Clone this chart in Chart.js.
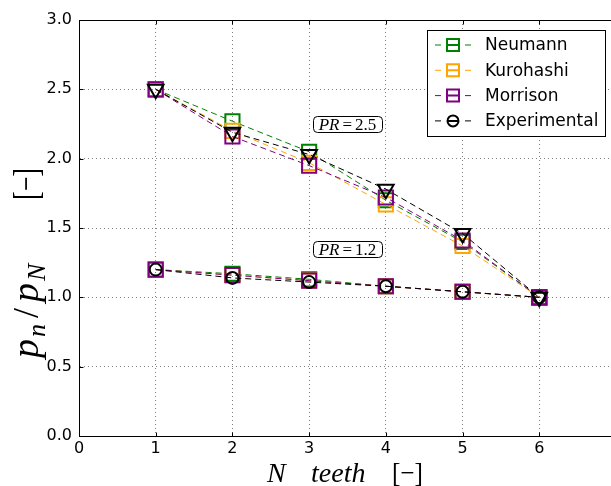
<!DOCTYPE html>
<html>
<head>
<meta charset="utf-8">
<script src="https://cdn.jsdelivr.net/npm/chart.js@4.4.0/dist/chart.umd.min.js"></script>
<style>
  html, body { margin: 0; padding: 0; background: #fff; overflow: hidden; }
  #wrap { width: 611px; height: 486px; overflow: hidden; }
</style>
</head>
<body>
<div id="wrap"><canvas id="c" width="628" height="486"></canvas></div>
<script>
const teeth = [1, 2, 3, 4, 5, 6];

// pressure ratio 2.5
const neumannHigh      = [2.50, 2.27, 2.05, 1.70, 1.40, 1.00];
const kurohashiHigh    = [2.50, 2.20, 1.97, 1.67, 1.37, 1.00];
const morrisonHigh     = [2.50, 2.16, 1.95, 1.72, 1.41, 1.00];
const experimentalHigh = [2.50, 2.19, 2.03, 1.78, 1.46, 1.00];

// pressure ratio 1.2
const neumannLow      = [1.20, 1.17, 1.13, 1.08, 1.04, 1.00];
const kurohashiLow    = [1.20, 1.16, 1.12, 1.08, 1.04, 1.00];
const morrisonLow     = [1.20, 1.16, 1.12, 1.08, 1.04, 1.00];
const experimentalLow = [1.20, 1.14, 1.11, 1.08, 1.04, 1.00];

const xTicks = [0, 1, 2, 3, 4, 5, 6, 7];
const yTicks = [0.0, 0.5, 1.0, 1.5, 2.0, 2.5, 3.0];

const seriesNames  = ['Neumann', 'Kurohashi', 'Morrison', 'Experimental'];
const seriesColors = ['#008000', '#ffa500', '#800080', '#000000'];

const prLabels = [
  { text: '2.5', x: 3.5, y: 2.25 },
  { text: '1.2', x: 3.5, y: 1.35 }
];

function line(values, color, style, radius, rotation, order) {
  return {
    data: teeth.map((t, i) => ({ x: t, y: values[i] })),
    borderColor: color,
    borderWidth: 1,
    borderDash: [6, 4],
    pointStyle: style,
    pointRadius: radius,
    pointRotation: rotation,
    pointBorderWidth: 2,
    pointBorderColor: color,
    pointBackgroundColor: 'rgba(0,0,0,0)',
    order: order
  };
}

const datasets = [
  line(neumannHigh, seriesColors[0], 'rect', 10, 0, 3),
  line(kurohashiHigh, seriesColors[1], 'rect', 10, 0, 2),
  line(morrisonHigh, seriesColors[2], 'rect', 10, 0, 1),
  line(experimentalHigh, seriesColors[3], 'triangle', 9, 180, 0),
  line(neumannLow, seriesColors[0], 'rect', 10, 0, 3),
  line(kurohashiLow, seriesColors[1], 'rect', 10, 0, 2),
  line(morrisonLow, seriesColors[2], 'rect', 10, 0, 1),
  line(experimentalLow, seriesColors[3], 'circle', 6, 0, 0)
];

function roundBox(ctx, x, y, w, h, r) {
  ctx.beginPath();
  ctx.moveTo(x + r, y);
  ctx.arcTo(x + w, y, x + w, y + h, r);
  ctx.arcTo(x + w, y + h, x, y + h, r);
  ctx.arcTo(x, y + h, x, y, r);
  ctx.arcTo(x, y, x + w, y, r);
  ctx.closePath();
}

// p_n/p_N [−], laid out along the current x direction from 0
function drawYTitle(ctx) {
  const big = 'italic 38px "Liberation Serif"';
  const small = 'italic 26px "Liberation Serif"';
  const up = '36px "Liberation Serif"';
  let x = 0;
  const put = (t, font, dy, gap) => {
    ctx.font = font;
    ctx.fillText(t, x, dy);
    x += ctx.measureText(t).width + gap;
  };
  put('p', big, 0, 2);
  put('n', small, 7, 6);
  put('/', up, 0, 6);
  put('p', big, 0, 2);
  put('N', small, 7, 0);
  ctx.font = up;
  ctx.fillText('[\u2212]', 158, 0, 32);
}

const decorations = {
  id: 'decorations',
  afterDraw(chart) {
    const { ctx, chartArea: a, scales: { x, y } } = chart;
    ctx.save();

    // frame and inward ticks
    ctx.strokeStyle = '#000';
    ctx.lineWidth = 1;
    const L = Math.round(a.left) + 0.5, R = Math.round(a.right) + 0.5;
    const T = Math.round(a.top) + 0.5, B = Math.round(a.bottom) + 0.5;
    ctx.strokeRect(L, T, R - L, B - T);
    ctx.beginPath();
    xTicks.forEach(v => {
      const px = Math.round(x.getPixelForValue(v)) + 0.5;
      ctx.moveTo(px, B); ctx.lineTo(px, B - 4);
      ctx.moveTo(px, T); ctx.lineTo(px, T + 4);
    });
    yTicks.forEach(v => {
      const py = Math.round(y.getPixelForValue(v)) + 0.5;
      ctx.moveTo(L, py); ctx.lineTo(L + 4, py);
      ctx.moveTo(R, py); ctx.lineTo(R - 4, py);
    });
    ctx.stroke();

    // PR annotation boxes
    prLabels.forEach(p => {
      const cx = x.getPixelForValue(p.x), cy = y.getPixelForValue(p.y);
      roundBox(ctx, Math.round(cx - 35) + 0.5, Math.round(cy - 8) + 0.5, 69, 16, 4);
      ctx.fillStyle = '#fff';
      ctx.fill();
      ctx.stroke();
      ctx.fillStyle = '#000';
      ctx.textBaseline = 'alphabetic';
      ctx.font = 'italic 17px "Liberation Serif"';
      const w1 = ctx.measureText('PR').width;
      ctx.font = '17px "Liberation Serif"';
      const we = ctx.measureText('=').width;
      const w2 = ctx.measureText(p.text).width;
      const tx = cx - (w1 + we + w2 + 6) / 2;
      ctx.font = 'italic 17px "Liberation Serif"';
      ctx.fillText('PR', tx, cy + 6);
      ctx.font = '17px "Liberation Serif"';
      ctx.fillText('=', tx + w1 + 3, cy + 6);
      ctx.fillText(p.text, tx + w1 + we + 6, cy + 6);
    });

    // legend
    const lx = 427.5, ly = 30.5, lw = 178, lh = 106;
    ctx.fillStyle = '#fff';
    ctx.fillRect(lx, ly, lw, lh);
    ctx.strokeRect(lx, ly, lw, lh);
    seriesNames.forEach((name, i) => {
      const cy = 45 + i * 25.3;
      const c = seriesColors[i];
      ctx.strokeStyle = c;
      ctx.lineWidth = 1;
      ctx.beginPath();
      ctx.moveTo(435, cy); ctx.lineTo(441, cy);
      ctx.moveTo(465, cy); ctx.lineTo(471, cy);
      ctx.stroke();
      ctx.lineWidth = 2;
      ctx.beginPath();
      if (i === 3) {
        ctx.arc(453, cy, 5.5, 0, Math.PI * 2);
        ctx.moveTo(448, cy); ctx.lineTo(458, cy);
      } else {
        ctx.rect(447, cy - 6, 12, 12);
        ctx.moveTo(447, cy); ctx.lineTo(459, cy);
      }
      ctx.stroke();
      ctx.fillStyle = '#000';
      ctx.font = '17px "DejaVu Sans"';
      ctx.textBaseline = 'middle';
      ctx.fillText(name, 485, cy + 1);
    });

    // axis titles
    ctx.fillStyle = '#000';
    ctx.textBaseline = 'alphabetic';
    ctx.font = 'italic 28px "Liberation Serif"';
    ctx.fillText('N', 267, 482);
    ctx.fillText('teeth', 311, 482);
    ctx.font = '28px "Liberation Serif"';
    ctx.fillText('[\u2212]', 392, 482, 31);

    ctx.translate(38, 358);
    ctx.rotate(-Math.PI / 2);
    drawYTitle(ctx);

    ctx.restore();
  }
};

new Chart(document.getElementById('c'), {
  type: 'line',
  data: { datasets: datasets },
  options: {
    responsive: false,
    animation: false,
    layout: { padding: { top: 20, right: 8, left: 0, bottom: 0 } },
    plugins: { legend: { display: false }, tooltip: { enabled: false } },
    scales: {
      x: {
        type: 'linear',
        min: 0,
        max: 7,
        afterBuildTicks: s => { s.ticks = xTicks.map(v => ({ value: v })); },
        afterFit: s => { s.height = 50; },
        grid: { color: 'rgba(0,0,0,0.5)', lineWidth: 1, drawTicks: false },
        border: { display: true, color: '#000', width: 1, dash: [1, 3] },
        ticks: {
          color: '#000',
          font: { family: 'DejaVu Sans', size: 16 },
          padding: 3,
          maxRotation: 0,
          autoSkip: false,
          callback: v => String(v)
        }
      },
      y: {
        type: 'linear',
        min: 0,
        max: 3,
        afterBuildTicks: s => { s.ticks = yTicks.map(v => ({ value: v })); },
        afterFit: s => { s.width = 79; },
        grid: { color: 'rgba(0,0,0,0.5)', lineWidth: 1, drawTicks: false },
        border: { display: true, color: '#000', width: 1, dash: [1, 3] },
        ticks: {
          color: '#000',
          font: { family: 'DejaVu Sans', size: 16 },
          padding: 7,
          autoSkip: false,
          callback: v => v.toFixed(1)
        }
      }
    }
  },
  plugins: [decorations]
});
</script>
</body>
</html>
